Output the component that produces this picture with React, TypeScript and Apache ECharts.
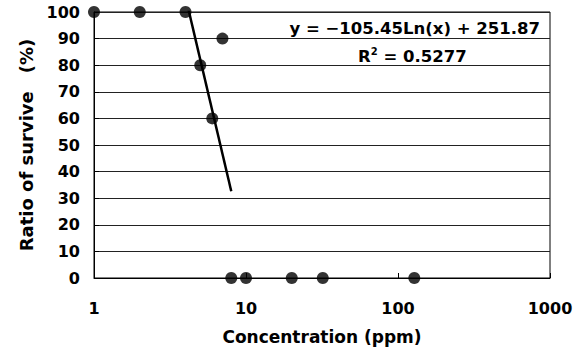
import React, { useEffect, useRef } from "react";
import * as echarts from "echarts";

const concentrations = [1, 2, 4, 5, 6, 7, 8, 10, 20, 32, 128];
const survival = [100, 100, 100, 80, 60, 90, 0, 0, 0, 0, 0];
const xTicks = [1, 10, 100, 1000];
const trendSlope = -105.45;
const trendIntercept = 251.87;
const trendStart = 4;
const trendEnd = 8;
const equationText = "y = \u2212105.45Ln(x) + 251.87";
const r2Value = "0.5277";

const FONT = "'DejaVu Sans', 'Noto Sans', sans-serif";

export default function App() {
  const ref = useRef<HTMLDivElement>(null);
  useEffect(() => {
    if (!ref.current) return;
    const chart = echarts.init(ref.current, null, { renderer: "svg" });
    const trend: number[][] = [];
    const steps = 40;
    for (let i = 0; i <= steps; i++) {
      const x = trendStart * Math.pow(trendEnd / trendStart, i / steps);
      trend.push([x, trendSlope * Math.log(x) + trendIntercept]);
    }
    chart.setOption({
      animation: false,
      backgroundColor: "#fff",
      textStyle: { fontFamily: FONT },
      grid: {
        left: 94,
        right: 32,
        top: 12,
        bottom: 71,
        show: true,
        borderColor: "#000",
        borderWidth: 1,
        containLabel: false,
        outerBoundsMode: "none",
      },
      xAxis: {
        type: "log",
        logBase: 10,
        min: 1,
        max: 1000,
        name: "Concentration (ppm)",
        nameLocation: "middle",
        nameGap: 50,
        nameTextStyle: { fontSize: 17, fontWeight: "bold", color: "#000", fontFamily: FONT },
        axisLine: { lineStyle: { color: "#000", width: 1 } },
        axisTick: { show: true, inside: true, length: 5, lineStyle: { color: "#000" } },
        minorTick: { show: false },
        splitLine: { show: false },
        axisLabel: {
          margin: 22,
          fontSize: 16,
          fontWeight: "bold",
          color: "#000",
          fontFamily: FONT,
          formatter: (v: number) => {
            const t = xTicks.find((k) => Math.abs(k - v) / k < 1e-6);
            return t !== undefined ? String(t) : "";
          },
        },
      },
      yAxis: {
        type: "value",
        min: 0,
        max: 100,
        interval: 10,
        name: "Ratio of survive\u3000(%)",
        nameLocation: "middle",
        nameGap: 56,
        nameRotate: 90,
        nameTextStyle: { fontSize: 18, fontWeight: "bold", color: "#000", fontFamily: FONT },
        axisLine: { show: true, lineStyle: { color: "#000", width: 1 } },
        axisTick: { show: true, inside: true, length: 5, lineStyle: { color: "#000" } },
        splitLine: { show: true, lineStyle: { color: "#222", width: 1 } },
        axisLabel: {
          margin: 14,
          fontSize: 16,
          fontWeight: "bold",
          color: "#000",
          fontFamily: FONT,
        },
      },
      series: [
        {
          type: "line",
          data: trend,
          showSymbol: false,
          symbol: "none",
          clip: true,
          lineStyle: { color: "#000", width: 2.5 },
          z: 2,
        },
        {
          type: "scatter",
          data: concentrations.map((c, i) => [c, survival[i]]),
          symbol: "circle",
          symbolSize: 12,
          itemStyle: { color: "#000" },
          clip: false,
          z: 3,
        },
      ],
      graphic: [
        {
          type: "text",
          right: 42,
          top: 20,
          style: {
            text: equationText,
            fontSize: 16.5,
            fontWeight: "bold",
            fill: "#000",
            fontFamily: FONT,
          },
        },
        {
          type: "text",
          left: 358,
          top: 46,
          style: {
            text: "{a|R}{s|2}{a| = " + r2Value + "}",
            rich: {
              a: { fontSize: 16.5, fontWeight: "bold", fill: "#000", fontFamily: FONT, verticalAlign: "bottom" },
              s: { fontSize: 10, fontWeight: "bold", fill: "#000", fontFamily: FONT, verticalAlign: "top", padding: [0, 0, 9, 0] },
            },
          },
        },
      ],
    });
    return () => chart.dispose();
  }, []);
  return (
    <div
      ref={ref}
      style={{ position: "fixed", left: 0, top: 0, width: 582, height: 349 }}
    />
  );
}
